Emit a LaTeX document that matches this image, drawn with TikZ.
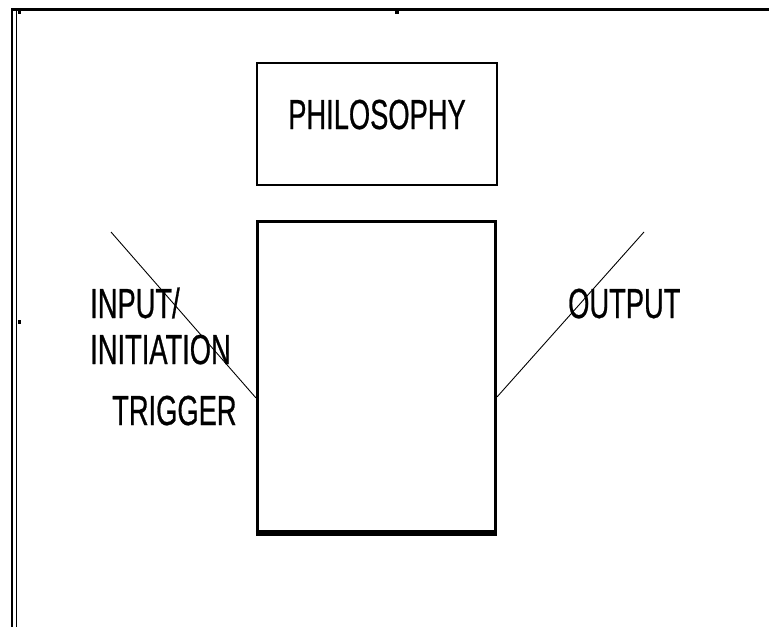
\documentclass[tikz,border=0pt]{standalone}
\usepackage{fontspec}
\setmainfont{Liberation Sans}
\newfontfamily\narrowsans[FakeStretch=0.65,FakeBold=0.6]{Liberation Sans}
\usetikzlibrary{positioning,calc}

\begin{document}
\begin{tikzpicture}[x=1pt,y=-1pt,
    every node/.style={font=\narrowsans\fontsize{42}{46}\selectfont,
                       text=black,inner sep=0pt},
    thinbox/.style={draw,line width=1.4pt,minimum width=240pt,
                    minimum height=122pt,text height=31pt,text depth=21pt},
    thickbox/.style={draw,line width=3.4pt,minimum width=238pt,
                     minimum height=310pt},
    lbltext/.style={anchor=base west},
    wire/.style={line width=0.9pt},
  ]
  \useasboundingbox (0,0) rectangle (769,627);
  % page frame
  \draw[line width=3pt] (11,9.5) -- (769,9.5);
  \draw[line width=2.8pt] (12,8) -- (12,627);
  \draw[line width=1.3pt] (16.5,11) -- (16.5,627);
  \fill (18,11) rectangle (21,14);
  \fill (18,320) rectangle (21,324);
  \fill (395,11) rectangle (399,14);

  \node[thinbox] (philo) at (377,124) {PHILOSOPHY};
  \node[thickbox] (process) at (376.5,376.75) {};
  \draw[line width=5pt] (process.south west) -- (process.south east);

  \node[lbltext] (in1) at (90,318) {INPUT/};
  \node[lbltext] (in2) at (90,364) {INITIATION};
  \node[lbltext] (in3) at (112,425) {TRIGGER};
  \node[lbltext] (out) at (568,318) {OUTPUT};

  \coordinate (inTop) at (111,232);
  \coordinate (outTop) at (644,232);
  \draw[wire] (inTop) -- ([yshift=-21pt]process.west);
  \draw[wire] ([yshift=-20pt]process.east) -- (outTop);
\end{tikzpicture}
\end{document}
